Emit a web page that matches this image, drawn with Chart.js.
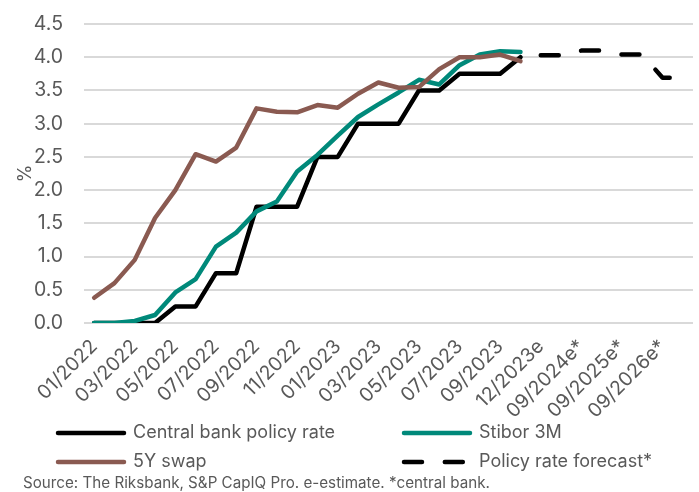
<!DOCTYPE html>
<html>
<head>
<meta charset="utf-8">
<script src="https://cdn.jsdelivr.net/npm/chart.js@4.4.0/dist/chart.umd.min.js"></script>
<style>
    html, body { margin: 0; padding: 0; background: #fff; }
    canvas { display: block; }
</style>
</head>
<body>
<canvas id="rates" width="699" height="492"></canvas>
<script>
// Monthly observations, then the forecast slots (blank ones carry no tick label)
const PERIODS = [
    '01/2022', '02/2022', '03/2022', '04/2022', '05/2022', '06/2022',
    '07/2022', '08/2022', '09/2022', '10/2022', '11/2022', '12/2022',
    '01/2023', '02/2023', '03/2023', '04/2023', '05/2023', '06/2023',
    '07/2023', '08/2023', '09/2023', '10/2023',
    '12/2023e', '', '09/2024e*', '', '09/2025e*', '', '09/2026e*', '',
];

const POLICY_RATE = [0, 0, 0, 0, 0.25, 0.25, 0.75, 0.75, 1.75, 1.75, 1.75, 2.5,
    2.5, 3.0, 3.0, 3.0, 3.5, 3.5, 3.75, 3.75, 3.75, 4.0];
const STIBOR_3M = [0, 0, 0.03, 0.12, 0.46, 0.66, 1.15, 1.36, 1.68, 1.83, 2.28, 2.53,
    2.82, 3.1, 3.29, 3.47, 3.66, 3.59, 3.88, 4.04, 4.09, 4.08];
const SWAP_5Y = [0.38, 0.6, 0.95, 1.58, 2.0, 2.54, 2.43, 2.64, 3.23, 3.18, 3.17, 3.28,
    3.24, 3.45, 3.62, 3.54, 3.55, 3.82, 4.0, 4.0, 4.04, 3.94];
const FORECAST = [null, null, null, null, null, null, null, null, null, null, null, null,
    null, null, null, null, null, null, null, null, null, null,
    4.03, 4.03, 4.1, 4.1, 4.04, 4.04, 3.69, 3.69];

const Y_TICKS = { min: 0, max: 4.5, step: 0.5 };
const SOURCE = 'Source: The Riksbank, S&P CapIQ Pro. e-estimate. *central bank.';

const FONT = 'Inter, "Liberation Sans", sans-serif';
const GREY = '#595959';

function line(label, data, color, order, dash) {
    return {
        label, data, order,
        borderColor: color,
        backgroundColor: color,
        borderWidth: 4.5,
        borderDash: dash || [],
        borderCapStyle: 'round',
        borderJoinStyle: 'round',
        pointRadius: 0,
        tension: 0,
        spanGaps: false,
    };
}

// legend in two fixed columns under the axis labels, plus the source line
const legendSlots = [
    { x: 56, y: 433 }, { x: 402, y: 433 },
    { x: 56, y: 462 }, { x: 402, y: 462 },
];

const bottomLegend = {
    id: 'bottomLegend',
    afterDraw(chart) {
        const ctx = chart.ctx;
        ctx.save();
        chart.data.datasets.forEach((ds, k) => {
            const { x, y } = legendSlots[k];
            ctx.beginPath();
            ctx.strokeStyle = ds.borderColor;
            ctx.lineWidth = ds.borderWidth;
            ctx.lineCap = 'round';
            ctx.setLineDash(ds.borderDash);
            ctx.moveTo(x + 2, y);
            ctx.lineTo(x + 68, y);
            ctx.stroke();
            ctx.setLineDash([]);
            ctx.fillStyle = GREY;
            ctx.font = '18px ' + FONT;
            ctx.textBaseline = 'middle';
            ctx.textAlign = 'left';
            ctx.fillText(ds.label, x + 77, y);
        });
        ctx.font = '15.2px ' + FONT;
        ctx.fillText(SOURCE, 23, 483);
        ctx.restore();
    },
};

new Chart(document.getElementById('rates'), {
    type: 'line',
    data: {
        labels: PERIODS,
        datasets: [
            line('Central bank policy rate', POLICY_RATE, '#000000', 4),
            line('Stibor 3M', STIBOR_3M, '#00897a', 3),
            line('5Y swap', SWAP_5Y, '#8a5a51', 2),
            line('Policy rate forecast*', FORECAST, '#000000', 1, [18, 22.8]),
        ],
    },
    options: {
        responsive: false,
        animation: false,
        layout: { padding: { top: 24, right: 6, left: 0, bottom: 0 } },
        plugins: { legend: { display: false }, tooltip: { enabled: false } },
        scales: {
            x: {
                offset: true,
                grid: { display: false, drawTicks: false },
                border: { display: false },
                ticks: {
                    autoSkip: false,
                    minRotation: 45,
                    maxRotation: 45,
                    padding: 12,
                    color: GREY,
                    font: { family: FONT, size: 19.5 },
                    callback: (v, i) => (i % 2 ? '' : PERIODS[i]),
                },
                // fixed band for the rotated labels; the legend sits below it
                afterFit: s => {
                    s.height = 169;
                    s.paddingLeft = 0;
                    s.paddingRight = 0;
                },
            },
            y: {
                min: Y_TICKS.min,
                max: Y_TICKS.max,
                grid: { color: '#d9d9d9', lineWidth: 2, drawTicks: false },
                border: { display: false },
                ticks: {
                    stepSize: Y_TICKS.step,
                    padding: 21,
                    color: GREY,
                    font: { family: FONT, size: 19.5 },
                    callback: v => v.toFixed(1),
                },
                title: {
                    display: true,
                    text: '%',
                    color: GREY,
                    font: { family: FONT, size: 18 },
                    padding: { top: 15, bottom: 0 },
                },
                afterFit: s => {
                    s.width = 84;
                    s.paddingTop = 0;
                    s.paddingBottom = 0;
                },
            },
        },
    },
    plugins: [bottomLegend],
});
</script>
</body>
</html>
